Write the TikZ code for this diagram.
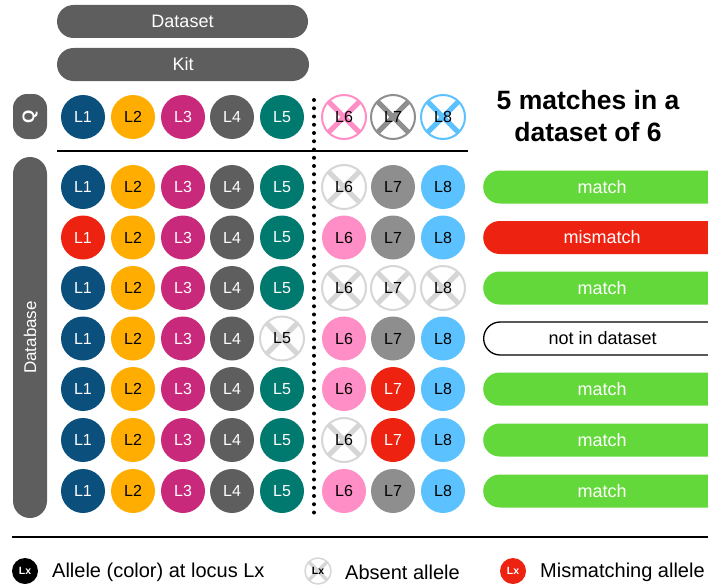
\documentclass[tikz,border=0pt]{standalone}
\usepackage{fontspec}
\setmainfont{Liberation Sans}
\definecolor{cA}{HTML}{0B4F7D}
\definecolor{cB}{HTML}{FFAD00}
\definecolor{cC}{HTML}{C8297B}
\definecolor{cD}{HTML}{5E5E5E}
\definecolor{cE}{HTML}{00796F}
\definecolor{cF}{HTML}{FF8DC6}
\definecolor{cG}{HTML}{8E8E8E}
\definecolor{cH}{HTML}{5CC2FF}
\definecolor{cRed}{HTML}{EE2211}
\definecolor{cGreen}{HTML}{63D83B}
\definecolor{pillgray}{HTML}{5E5E5E}
\definecolor{absgray}{HTML}{D6D6D6}
\tikzset{
  al/.style={circle, minimum size=44pt, inner sep=0pt, font=\fontsize{16}{17}\selectfont},
  n1/.style={al, fill=cA, text=white},
  n2/.style={al, fill=cB, text=black},
  n3/.style={al, fill=cC, text=white},
  n4/.style={al, fill=cD, text=white},
  n5/.style={al, fill=cE, text=white},
  n6/.style={al, fill=cF, text=black},
  n7/.style={al, fill=cG, text=black},
  n8/.style={al, fill=cH, text=black},
  absent/.style={al, fill=white, draw=#1, line width=2pt, text=black,
    path picture={\draw[#1, line width=5pt]
      (path picture bounding box.north west) -- (path picture bounding box.south east)
      (path picture bounding box.north east) -- (path picture bounding box.south west);}},
  absent/.default=absgray,
  a1/.style={absent}, a2/.style={absent}, a3/.style={absent}, a4/.style={absent},
  a5/.style={absent}, a6/.style={absent}, a7/.style={absent}, a8/.style={absent},
  mm/.style={al, fill=cRed, text=white},
  r1/.style={mm}, r2/.style={mm}, r3/.style={mm}, r4/.style={mm},
  r5/.style={mm}, r6/.style={mm}, r7/.style={mm}, r8/.style={mm},
  pill/.style={rectangle, fill=pillgray, text=white, inner sep=0pt, font=\fontsize{18}{20}\selectfont},
  resbar/.style={rectangle, rounded corners=16.5pt, minimum width=250pt, minimum height=33pt,
    inner sep=0pt, anchor=west, font=\fontsize{18}{20}\selectfont},
  match/.style={resbar, fill=cGreen, text=white},
  mismatch/.style={resbar, fill=cRed, text=white},
  notin/.style={resbar, fill=white, draw=black, line width=1.3pt, text=black},
  legc/.style={circle, minimum size=26pt, inner sep=0pt, font=\fontsize{10.5}{11}\selectfont\bfseries},
  legt/.style={anchor=west, inner sep=0pt, font=\fontsize{20}{22}\selectfont},
}
\begin{document}
\begin{tikzpicture}[x=1pt,y=-1pt]
\useasboundingbox (0,0) rectangle (708,586);
\clip (0,0) rectangle (708,586);
% top bars
\node[pill, rounded corners=16.5pt, minimum width=251pt, minimum height=33pt] (dataset) at (182.5,21.5) {Dataset};
\node[pill, rounded corners=16.5pt, minimum width=252pt, minimum height=33pt] (kit) at (183,64.5) {Kit};
% side pills
\node[pill, rounded corners=14pt, minimum width=34pt, minimum height=45pt, font=\fontsize{17}{18}\selectfont\bfseries] (qpill) at (30,116.5) {\rotatebox{90}{Q}};
\node[pill, rounded corners=17pt, minimum width=34pt, minimum height=361pt, font=\fontsize{17}{18}\selectfont] (dbpill) at (30,337.5) {\rotatebox{90}{Database}};
% separators
\coordinate (hl) at (57,151);
\coordinate (hr) at (468,151);
\draw[line width=2pt] (hl) -- (hr);
\coordinate (vt) at (314,100);
\coordinate (vb) at (314,518);
\draw[line width=4pt, line cap=round, dash pattern=on 0pt off 8.25pt] (vt) -- (vb);
\coordinate (bl) at (12,537);
\coordinate (br) at (708,537);
\draw[line width=2.6pt] (bl) -- (br);
% query row
\foreach \c/\x in {1/83,2/133,3/183,4/232,5/282}
  \node[n\c] (q\c) at (\x,117) {L\c};
\node[absent=cF] (q6) at (344,117) {L6};
\node[absent=cG] (q7) at (393,117) {L7};
\node[absent=cH] (q8) at (443,117) {L8};
% title
\node[align=center, font=\fontsize{26.5}{32}\selectfont\bfseries] (title) at (588,116) {5 matches in a\\dataset of 6};
% database rows
\foreach \i/\y/\spec/\res/\txt in {
  1/187/{n,n,n,n,n,a,n,n}/match/match,
  2/237.5/{r,n,n,n,n,n,n,n}/mismatch/mismatch,
  3/288/{n,n,n,n,n,a,a,a}/match/match,
  4/338.5/{n,n,n,n,a,n,n,n}/notin/not in dataset,
  5/389/{n,n,n,n,n,n,r,n}/match/match,
  6/440/{n,n,n,n,n,a,r,n}/match/match,
  7/491/{n,n,n,n,n,n,n,n}/match/match}{
  \foreach \t [count=\c] in \spec {
    \pgfmathsetmacro\xx{{83,133,183,232,282,344,393,443}[\c-1]}
    \node[\t\c] (r\i c\c) at (\xx,\y) {L\c};
  }
  \node[\res] (bar\i) at (483,\y) {\hspace*{-12pt}\txt};
}
% legend
\node[legc, fill=black, text=white] (lg1) at (25,571) {Lx};
\node[legt] (lt1) at (52,572) {Allele (color) at locus Lx};
\node[legc, fill=white, draw=absgray, line width=1.5pt, text=black,
  path picture={\draw[absgray, line width=3.5pt]
      (path picture bounding box.north west) -- (path picture bounding box.south east)
      (path picture bounding box.north east) -- (path picture bounding box.south west);}] (lg2) at (318,571) {Lx};
\node[legt] (lt2) at (345,572) {Absent allele};
\node[legc, fill=cRed, text=white] (lg3) at (513,571) {Lx};
\node[legt] (lt3) at (540,572) {Mismatching allele};
\end{tikzpicture}
\end{document}
